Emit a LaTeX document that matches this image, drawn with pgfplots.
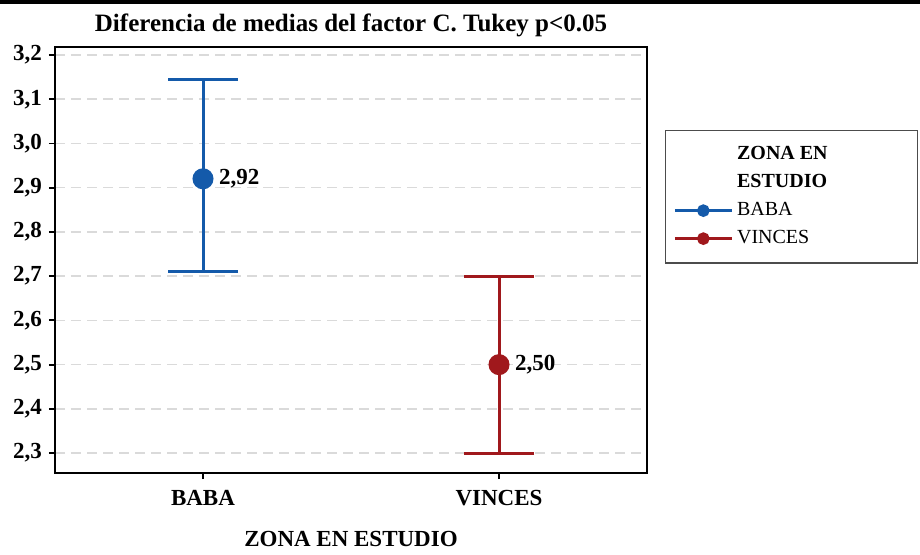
\documentclass[border=0pt]{standalone}
\usepackage{pgfplots}
\pgfplotsset{compat=1.18}
\usepackage{fontspec}
\setmainfont{Liberation Serif}

\definecolor{babablue}{RGB}{20,90,170}
\definecolor{vincesred}{RGB}{160,24,28}
\definecolor{gridgray}{RGB}{218,218,218}

\begin{document}
\begin{tikzpicture}
\begin{axis}[
    scale only axis,
    width=296pt, height=213pt,
    xmin=-0.5, xmax=1.5,
    ymin=2.255, ymax=3.218,
    xtick={0,1},
    xticklabels={BABA,VINCES},
    ytick={2.3,2.4,2.5,2.6,2.7,2.8,2.9,3.0,3.1,3.2},
    yticklabel style={/pgf/number format/.cd, fixed, fixed zerofill, precision=1, use comma, assume math mode=true},
    ticklabel style={font=\bfseries\fontsize{11.5}{13}\selectfont},
    xtick pos=bottom, ytick pos=left,
    tick align=outside,
    major tick length=3pt,
    tick style={black, line width=0.9pt},
    axis line style={black, line width=1.4pt},
    ymajorgrids,
    grid style={gridgray, line width=0.8pt, dash pattern=on 5pt off 3pt},
    title={Diferencia de medias del factor C. Tukey p<0.05},
    title style={font=\bfseries\fontsize{12.5}{14}\selectfont, at={(0.5,1)}, anchor=base, yshift=1.5pt},
    xlabel={ZONA EN ESTUDIO},
    xlabel style={font=\bfseries\fontsize{11.5}{13}\selectfont, at={(0.5,0)}, anchor=base, yshift=-36.5pt},
    xticklabel style={yshift=-2pt},
    legend style={
        at={(1.0304,0.806)}, anchor=north west,
        draw=black!70, line width=0.6pt,
        font=\fontsize{10}{12}\selectfont,
        inner xsep=4pt, inner ysep=5.2pt, row sep=0pt,
        nodes={inner sep=2pt, text height=7.5pt, text depth=2.5pt},
        legend cell align=left,
    },
    legend image code/.code={
        \draw[mark repeat=2, mark phase=2, mark size=2.5pt, line width=1.3pt]
            plot coordinates {(0cm,0cm) (0.5cm,0cm) (1cm,0cm)};
    },
    nodes near coords={\pgfmathprintnumber[fixed, fixed zerofill, precision=2, use comma, assume math mode=true]{\pgfplotspointmeta}},
    nodes near coords style={anchor=west, xshift=4pt, black, font=\bfseries\fontsize{11.5}{13}\selectfont},
    point meta=y,
]
\addlegendimage{empty legend}
\addlegendentry{\makebox[84pt][l]{\textbf{ZONA EN}}}
\addlegendimage{empty legend}
\addlegendentry{\textbf{ESTUDIO}}

\addplot[babablue, mark=*, mark size=4.5pt, line width=1.5pt,
    error bars/.cd, y dir=both, y explicit,
    error bar style={babablue, line width=1.5pt},
    error mark options={babablue, rotate=90, mark size=17.5pt, line width=1.5pt}]
    coordinates {(0,2.92) += (0,0.225) -= (0,0.21)};
\addlegendentry{BABA}

\addplot[vincesred, mark=*, mark size=4.5pt, line width=1.5pt,
    error bars/.cd, y dir=both, y explicit,
    error bar style={vincesred, line width=1.5pt},
    error mark options={vincesred, rotate=90, mark size=17.5pt, line width=1.5pt}]
    coordinates {(1,2.50) += (0,0.20) -= (0,0.20)};
\addlegendentry{VINCES}
\end{axis}
\path[use as bounding box] (-27.5pt,-40.5pt) rectangle (432.5pt,236.5pt);
\fill[black] (-27.5pt,234.5pt) rectangle (432.5pt,236.5pt);
\end{tikzpicture}
\end{document}
